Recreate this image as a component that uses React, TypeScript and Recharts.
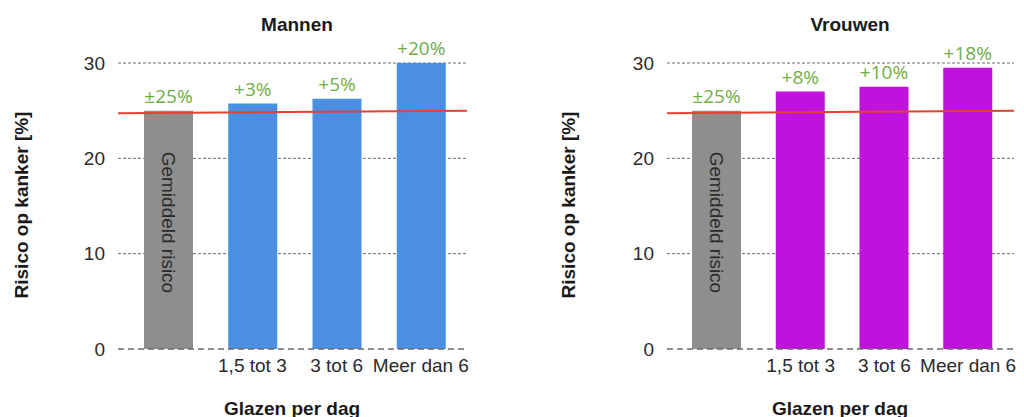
import React from "react";
import { BarChart, Bar, XAxis, YAxis, CartesianGrid, ReferenceLine, LabelList, Cell } from "recharts";

const categories = ["Gemiddeld", "1,5 tot 3", "3 tot 6", "Meer dan 6"];
const tickLabels = ["", "1,5 tot 3", "3 tot 6", "Meer dan 6"];
const menValues = [25, 25.75, 26.25, 30];
const womenValues = [25, 27, 27.5, 29.5];
const menLabels = ["±25%", "+3%", "+5%", "+20%"];
const womenLabels = ["±25%", "+8%", "+10%", "+18%"];
const yTicks = [0, 10, 20, 30];
const avgLineStart = 24.73;
const avgLineEnd = 25.0;
const avgLabel = "Gemiddeld risico";

const GRAY = "#8e8e8e";
const BLUE = "#4a8fe2";
const PURPLE = "#c012dd";
const GREEN = "#70ad47";
const RED = "#e6402f";
const GRID = "#6a6a6a";
const TEXT = "#2a2a2a";

const LINE_END = categories.length - 1;

const buildData = (values: number[], labels: string[]) =>
  categories.map((c, i) => ({ cat: c, tick: tickLabels[i], value: values[i], label: labels[i], pos: i }));

const menData = buildData(menValues, menLabels);
const womenData = buildData(womenValues, womenLabels);

const AvgText = (props: any) => {
  const { x, y, width, index } = props;
  if (index !== 0) return null;
  const cx = x + width / 2;
  const ty = y + 41;
  return (
    <text
      x={cx}
      y={ty}
      transform={`rotate(90 ${cx} ${ty})`}
      dy="0.36em"
      textAnchor="start"
      fontSize={19}
      fontFamily="Liberation Sans, Arial, sans-serif"
      fill={TEXT}
    >
      {avgLabel}
    </text>
  );
};

type PanelProps = {
  data: any[];
  color: string;
  left: number;
  marginLeft: number;
  marginRight: number;
};

const Panel = ({ data, color, left, marginLeft, marginRight }: PanelProps) => (
  <div style={{ position: "absolute", left, top: 0 }}>
    <BarChart
      width={512}
      height={417}
      data={data}
      margin={{ top: 63, right: marginRight, bottom: 38, left: marginLeft }}
    >
      <CartesianGrid
        horizontal
        vertical={false}
        stroke={GRID}
        strokeDasharray="3 2"
        horizontalValues={[10, 20, 30]}
      />
      <ReferenceLine y={0} stroke={GRID} strokeWidth={1.5} strokeDasharray="6 4" />
      <XAxis
        dataKey="cat"
        tickFormatter={(v: string, i: number) => tickLabels[i]}
        axisLine={false}
        tickLine={false}
        tickSize={0}
        tickMargin={10}
        interval={0}
        padding={{ left: 8, right: 4 }}
        tick={{ fontSize: 19, fill: TEXT, fontFamily: "Liberation Sans, Arial, sans-serif" }}
        height={30}
      />
      <XAxis xAxisId="line" dataKey="pos" type="number" domain={[0, LINE_END]} allowDataOverflow hide />
      <YAxis
        domain={[0, 30]}
        ticks={yTicks}
        axisLine={false}
        tickLine={false}
        tickSize={0}
        tickMargin={13}
        width={60}
        tick={{ fontSize: 19, fill: TEXT, fontFamily: "Liberation Sans, Arial, sans-serif" }}
      />
      <Bar dataKey="value" barSize={49} isAnimationActive={false}>
        {data.map((d, i) => (
          <Cell key={d.cat} fill={i === 0 ? GRAY : color} />
        ))}
        <LabelList
          dataKey="label"
          position="top"
          offset={8}
          fill={GREEN}
          fontSize={19}
          fontFamily="Open Sans, Noto Sans, sans-serif"
        />
        <LabelList dataKey="label" content={AvgText} />
      </Bar>
      <ReferenceLine
        xAxisId="line"
        segment={[
          { x: 0, y: avgLineStart },
          { x: LINE_END, y: avgLineEnd },
        ]}
        stroke={RED}
        strokeWidth={2}
        ifOverflow="visible"
      />
    </BarChart>
  </div>
);

const boldText: React.CSSProperties = {
  position: "absolute",
  fontFamily: "Liberation Sans, Arial, sans-serif",
  fontWeight: "bold",
  fontSize: 19,
  lineHeight: "19px",
  color: "#1a1a1a",
  whiteSpace: "nowrap",
};

export default function App() {
  return (
    <div style={{ position: "absolute", left: 0, top: 0, width: 1024, height: 417, background: "#fff", overflow: "hidden" }}>
      <Panel data={menData} color={BLUE} left={0} marginLeft={58} marginRight={45} />
      <Panel data={womenData} color={PURPLE} left={512} marginLeft={95} marginRight={10} />

      <div style={{ ...boldText, left: 297, top: 24, transform: "translate(-50%, -50%)" }}>Mannen</div>
      <div style={{ ...boldText, left: 850, top: 24, transform: "translate(-50%, -50%)" }}>Vrouwen</div>

      <div style={{ ...boldText, left: 21, top: 205, transform: "translate(-50%, -50%) rotate(-90deg)" }}>Risico op kanker [%]</div>
      <div style={{ ...boldText, left: 568, top: 205, transform: "translate(-50%, -50%) rotate(-90deg)" }}>Risico op kanker [%]</div>

      <div style={{ ...boldText, left: 292, top: 408, transform: "translate(-50%, -50%)" }}>Glazen per dag</div>
      <div style={{ ...boldText, left: 840, top: 408, transform: "translate(-50%, -50%)" }}>Glazen per dag</div>
    </div>
  );
}
